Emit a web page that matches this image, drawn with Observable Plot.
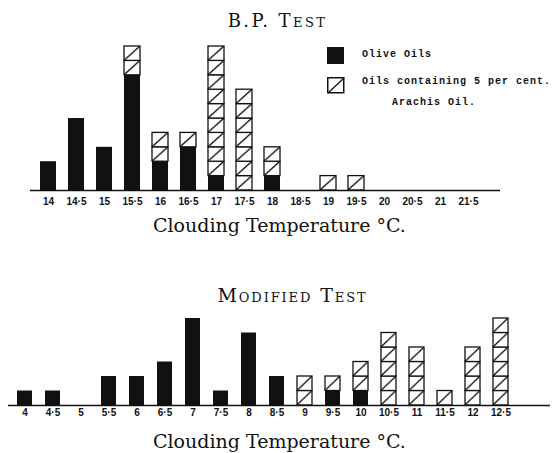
<!DOCTYPE html>
<html><head><meta charset="utf-8">
<script src="https://cdn.jsdelivr.net/npm/d3@7"></script>
<script src="https://cdn.jsdelivr.net/npm/@observablehq/plot@0.6"></script>
<style>
body{margin:0;background:#fff}
#wrap{position:relative;width:553px;height:453px;overflow:hidden;background:#fff}
.abs{position:absolute;white-space:nowrap;line-height:1;color:#111}
.ttl{font-family:"DejaVu Serif",serif;font-variant:small-caps;transform:translateX(-50%)}
.lab{font-family:"DejaVu Serif",serif;font-size:19px}
.leg{font-family:"Liberation Mono",monospace;font-weight:bold;font-size:10px;letter-spacing:1px}
</style></head>
<body><div id="wrap">
<div class="abs ttl" style="left:277.5px;top:12px;font-size:18px;letter-spacing:2.4px;">B.P. Test</div>
<div class="abs lab" style="left:153px;top:216px;">Clouding Temperature °C.</div>
<div class="abs ttl" style="left:292.5px;top:286px;font-size:19px;letter-spacing:1.9px;">Modified Test</div>
<div class="abs lab" style="left:153px;top:432px;">Clouding Temperature °C.</div>
<div class="abs" style="left:327px;top:47px;width:17px;height:17px;background:#111"></div>
<svg class="abs" style="left:327px;top:77px" width="18" height="17"><rect x="0.75" y="0.75" width="16" height="15" fill="#fff" stroke="#111" stroke-width="1.5"/><path d="M1,16L17,1" stroke="#111" stroke-width="1.3" fill="none"/></svg>
<div class="abs leg" style="left:362px;top:50px;">Olive Oils</div>
<div class="abs leg" style="left:362px;top:77px;">Oils containing 5 per cent.</div>
<div class="abs leg" style="left:392px;top:98px;">Arachis Oil.</div>
</div>
<script>
// B.P. Test
const bpTemps = ["14","14.5","15","15.5","16","16.5","17","17.5","18","18.5","19","19.5","20","20.5","21","21.5"];
const bpLabels = ["14","14·5","15","15·5","16","16·5","17","17·5","18","18·5","19","19·5","20","20·5","21","21·5"];
const bpOlive = [2,5,3,8,2,3,1,0,1,0,0,0,0,0,0,0];
const bpArachis = [0,0,0,2,2,1,9,7,2,0,1,1,0,0,0,0];
// Modified Test
const modTemps = ["4","4.5","5","5.5","6","6.5","7","7.5","8","8.5","9","9.5","10","10.5","11","11.5","12","12.5"];
const modLabels = ["4","4·5","5","5·5","6","6·5","7","7·5","8","8·5","9","9·5","10","10·5","11","11·5","12","12·5"];
const modOlive = [1,1,0,2,2,3,6,1,5,2,0,1,1,0,0,0,0,0];
const modArachis = [0,0,0,0,0,0,0,0,0,0,2,1,2,5,4,1,4,6];

function panel(o) {
  const baseY = o.height - 25;
  const solid = o.temps.map((t, i) => ({t, v: o.olive[i]}));
  const boxes = [];
  o.temps.forEach((t, i) => {
    for (let k = 0; k < o.arachis[i]; k++) boxes.push({t, y1: o.olive[i] + k, y2: o.olive[i] + k + 1});
  });
  const fmt = new Map(o.temps.map((t, i) => [t, o.labels[i]]));
  const svg = Plot.plot({
    width: 553, height: o.height,
    marginTop: 0, marginBottom: 25, marginLeft: o.marginLeft, marginRight: o.marginRight,
    style: {background: "transparent", color: "#111"},
    x: {domain: o.temps, range: o.xRange, padding: o.padding},
    y: {domain: [0, o.yMax], range: [baseY, o.yTop], axis: null},
    marks: [
      Plot.rectY(solid, {x: "t", y1: 0, y2: "v", fill: "#111"}),
      Plot.rectY(boxes, {x: "t", y1: "y1", y2: "y2", fill: `url(#${o.id})`, stroke: "#111", strokeWidth: 1.3}),
      Plot.ruleY([0], {stroke: "#111", strokeWidth: 1.3}),
      Plot.axisX({tickSize: 0, tickPadding: o.tickPadding, tickFormat: d => fmt.get(d), fontSize: 10, fontWeight: 600, fontFamily: "Liberation Sans", fill: "#111", label: null})
    ]
  });
  const ns = "http://www.w3.org/2000/svg";
  const defs = document.createElementNS(ns, "defs");
  defs.innerHTML = `<pattern id="${o.id}" patternUnits="objectBoundingBox" patternContentUnits="objectBoundingBox" width="1" height="1"><rect width="1" height="1" fill="#fff"/><path d="M0,1L1,0" stroke="#111" stroke-width="0.085" fill="none"/></pattern>`;
  svg.prepend(defs);
  svg.style.position = "absolute";
  svg.style.left = "0px";
  svg.style.top = o.top + "px";
  return svg;
}

const wrap = document.getElementById("wrap");
wrap.prepend(panel({
  id: "hatchBP", temps: bpTemps, labels: bpLabels, olive: bpOlive, arachis: bpArachis,
  height: 215, top: 0, yMax: 10, yTop: 46, xRange: [25.8, 490.2], padding: 0.43,
  marginLeft: 30, marginRight: 53, tickPadding: 7
}));
wrap.prepend(panel({
  id: "hatchMod", temps: modTemps, labels: modLabels, olive: modOlive, arachis: modArachis,
  height: 180, top: 250, yMax: 6, yTop: 68, xRange: [1, 523.5], padding: 0.45,
  marginLeft: 8, marginRight: 3, tickPadding: 3
}));
</script>
</body></html>
